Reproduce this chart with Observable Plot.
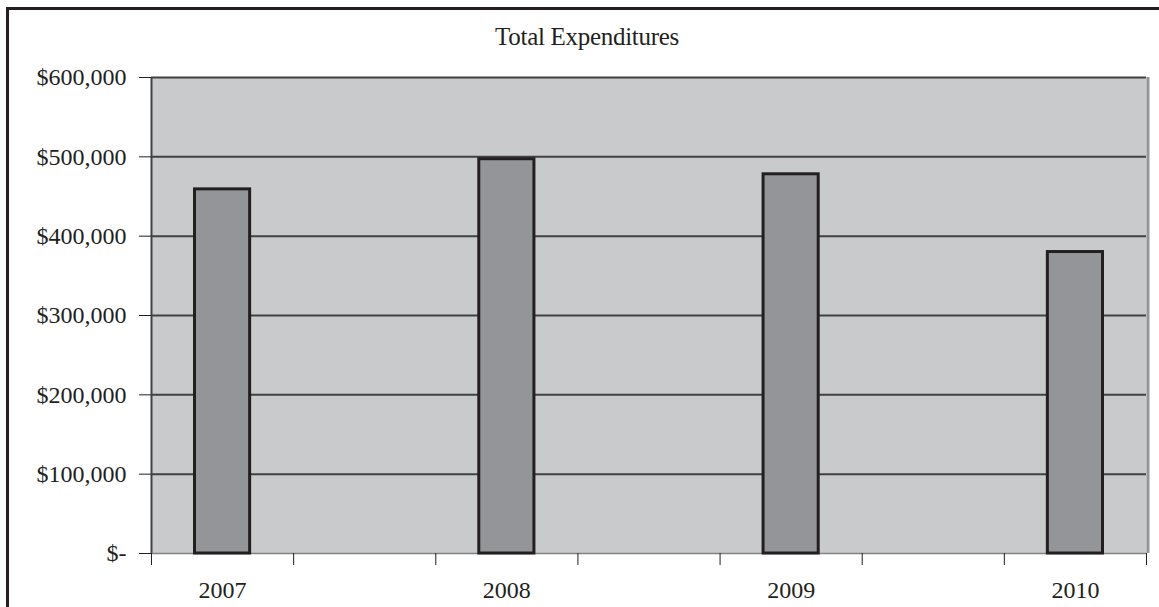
<!DOCTYPE html>
<html><head><meta charset="utf-8">
<script src="https://cdn.jsdelivr.net/npm/d3@7"></script>
<script src="https://cdn.jsdelivr.net/npm/@observablehq/plot@0.6"></script>
<style>
html,body{margin:0;padding:0;background:#fff;width:1159px;height:607px;overflow:hidden}
#frame{position:absolute;left:6px;top:7px;width:1200px;height:700px;border-left:3px solid #231f20;border-top:3px solid #231f20}
#title{position:absolute;left:0;width:1174px;top:23px;text-align:center;font:25px "Liberation Serif",serif;color:#231f20;letter-spacing:-0.3px}
#chart{position:absolute;left:0;top:0}
</style></head><body>
<div id="frame"></div>
<div id="title">Total Expenditures</div>
<div id="chart"></div>
<script>
const years = ["2007", "2008", "2009", "2010"];
const expenditures = [459000, 497000, 478000, 380000];
const yTicks = [0, 100000, 200000, 300000, 400000, 500000, 600000];

// each year occupies one slot, with an empty slot between consecutive years
const slotCount = years.length * 2 - 1;
const data = years.map((year, i) => ({year, value: expenditures[i], slot: i * 2}));
const boundaries = d3.range(slotCount + 1);
const labelPositions = data.map(d => d.slot + 0.5);

const money = v => v === 0 ? "$-" : "$" + d3.format(",")(v);

const chart = Plot.plot({
  width: 1159,
  height: 607,
  marginLeft: 151,
  marginRight: 13,
  marginTop: 77,
  marginBottom: 54,
  style: {fontFamily: "'Liberation Serif', serif", fontSize: "24px", color: "#231f20", background: "transparent"},
  x: {domain: [0, slotCount], axis: null},
  y: {domain: [0, 600000], axis: null},
  marks: [
    Plot.frame({fill: "#c9cacc", stroke: null}),
    Plot.gridY(yTicks.filter(v => v > 0 && v < 600000), {stroke: "#414042", strokeOpacity: 1, strokeWidth: 2}),
    Plot.ruleX([slotCount], {stroke: "#939598", strokeWidth: 3, dx: 1.5}),
    Plot.ruleY([600000], {stroke: "#414042", strokeWidth: 2}),
    Plot.ruleX([0], {stroke: "#414042", strokeWidth: 2}),
    Plot.ruleY([0], {stroke: "#808285", strokeWidth: 1.5}),
    Plot.rectY(data, {x1: d => d.slot, x2: d => d.slot + 1, y: "value", insetLeft: 43.5, insetRight: 43.5,
      fill: "#939598", stroke: "#231f20", strokeWidth: 3}),
    Plot.axisY({ticks: yTicks, tickFormat: money, tickSize: 12, tickPadding: 13, label: null, stroke: "#231f20", fill: "#231f20"}),
    Plot.axisX({ticks: boundaries, tickFormat: () => "", tickSize: 12, label: null, stroke: "#231f20"}),
    Plot.axisX({ticks: labelPositions, tickFormat: v => years[(v - 0.5) / 2], tickSize: 0, tickPadding: 27, label: null, fill: "#231f20"})
  ]
});
document.getElementById("chart").appendChild(chart);
</script>
</body></html>
